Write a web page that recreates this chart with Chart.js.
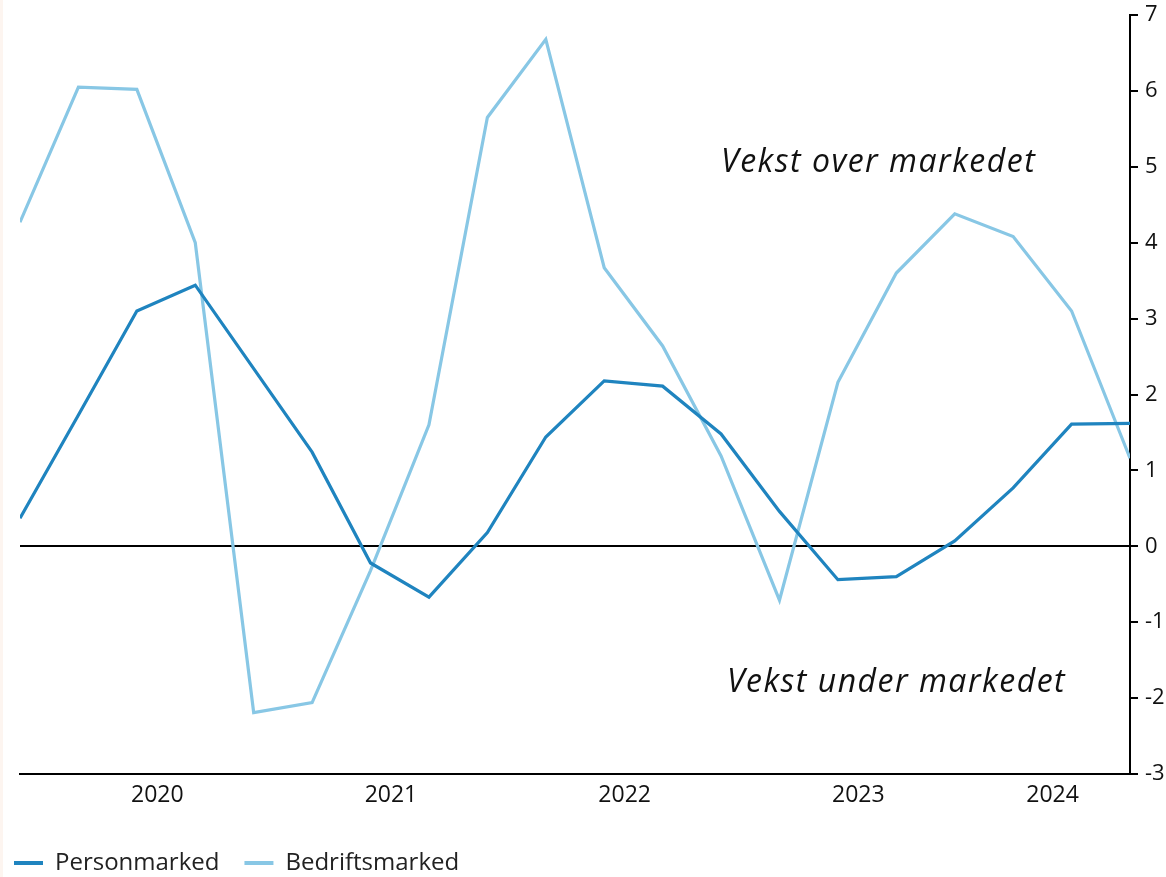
<!DOCTYPE html>
<html>
<head>
<meta charset="utf-8">
<script src="https://cdn.jsdelivr.net/npm/chart.js@4/dist/chart.umd.min.js"></script>
<style>
  html, body { margin: 0; padding: 0; }
  body { background: linear-gradient(to right, #fdf5f0 3px, #ffffff 3px); }
  #wrap { width: 1166px; height: 877px; }
</style>
</head>
<body>
<div id="wrap"><canvas id="myChart"></canvas></div>
<script>
// Kvartalsvis vekst relativt til markedet (prosentpoeng)
var quarters = ['2019K4', '2020K1', '2020K2', '2020K3', '2020K4', '2021K1', '2021K2', '2021K3', '2021K4',
                '2022K1', '2022K2', '2022K3', '2022K4', '2023K1', '2023K2', '2023K3', '2023K4',
                '2024K1', '2024K2', '2024K3'];
var personmarked = [0.37, 1.73, 3.1, 3.44, 2.34, 1.24, -0.22, -0.67, 0.18, 1.44,
                    2.18, 2.11, 1.48, 0.46, -0.44, -0.4, 0.07, 0.77, 1.61, 1.62];
var bedriftsmarked = [4.27, 6.05, 6.02, 4.0, -2.19, -2.06, -0.32, 1.6, 5.65, 6.68,
                      3.67, 2.64, 1.19, -0.71, 2.16, 3.6, 4.38, 4.08, 3.1, 1.16];
var years = ['2020', '2021', '2022', '2023', '2024'];
var yTicks = [-3, -2, -1, 0, 1, 2, 3, 4, 5, 6, 7];

var FONT = '"Open Sans", "DejaVu Sans", sans-serif';

function toPoints(arr) {
    return arr.map(function(v, i) { return { x: i, y: v }; });
}

// tekst i plottet
var annotations = {
    id: 'annotations',
    afterDatasetsDraw: function(chart) {
        var ctx = chart.ctx, x = chart.scales.x, y = chart.scales.y;
        ctx.save();
        ctx.fillStyle = '#111';
        ctx.font = 'italic 32px ' + FONT;
        ctx.letterSpacing = '1.5px';
        ctx.textBaseline = 'middle';
        ctx.textAlign = 'left';
        ctx.fillText('Vekst over markedet', x.getPixelForValue(12.0), y.getPixelForValue(5.05));
        ctx.fillText('Vekst under markedet', x.getPixelForValue(12.1), y.getPixelForValue(-1.8));
        ctx.restore();
    }
};

// flytt legenden litt (tettere mot kanten enn padding tillater)
var legendShift = {
    id: 'legendShift',
    afterLayout: function(chart) {
        var lg = chart.legend;
        var h = lg.bottom - lg.top;
        lg.left -= 15;
        lg.top = 826;
        lg.bottom = lg.top + h;
    }
};

var ctx = document.getElementById('myChart').getContext('2d');
var myChart = new Chart(ctx, {
    type: 'line',
    data: {
        datasets: [{
            label: 'Personmarked',
            data: toPoints(personmarked),
            borderColor: '#1f84bf',
            backgroundColor: '#1f84bf',
            borderWidth: 3.2,
            pointRadius: 0,
            tension: 0
        }, {
            label: 'Bedriftsmarked',
            data: toPoints(bedriftsmarked),
            borderColor: '#88c7e5',
            backgroundColor: '#88c7e5',
            borderWidth: 3.2,
            pointRadius: 0,
            tension: 0
        }]
    },
    options: {
        responsive: true,
        maintainAspectRatio: false,
        animation: false,
        layout: { padding: { left: 4, right: 0, top: 15, bottom: 0 } },
        plugins: {
            tooltip: { enabled: false },
            legend: {
                position: 'bottom',
                align: 'start',
                labels: {
                    boxWidth: 29,
                    boxHeight: 4,
                    padding: 25,
                    color: '#222',
                    font: { family: FONT, size: 24 },
                    generateLabels: function(chart) {
                        return Chart.defaults.plugins.legend.labels.generateLabels(chart).map(function(l) {
                            l.lineWidth = 0;
                            return l;
                        });
                    }
                }
            }
        },
        scales: {
            x: {
                type: 'linear',
                min: 0,
                max: quarters.length - 1,
                afterBuildTicks: function(axis) {
                    var last = quarters.length - 1;
                    axis.ticks = years.map(function(y, k) {
                        var start = 0.35 + 4 * k;
                        var end = Math.min(start + 4, last);
                        return { value: (start + end) / 2 };
                    });
                },
                afterFit: function(s) { s.height = 44; },
                grid: { display: false },
                border: { display: true, color: '#000', width: 2 },
                ticks: {
                    autoSkip: false,
                    maxRotation: 0,
                    padding: 0,
                    color: '#111',
                    font: { family: FONT, size: 23 },
                    callback: function(v, i) { return years[i]; }
                }
            },
            yl: {
                position: 'left',
                display: true,
                afterFit: function(s) { s.width = 16; },
                grid: { display: false },
                border: { display: false },
                ticks: { display: false }
            },
            y: {
                position: 'right',
                min: -3,
                max: 7,
                afterBuildTicks: function(axis) {
                    axis.ticks = yTicks.map(function(v) { return { value: v }; });
                },
                afterFit: function(s) {
                    s.width = 36;
                    s.paddingTop = 0;
                    s.paddingBottom = 0;
                },
                border: { display: true, color: '#000', width: 2 },
                grid: {
                    drawOnChartArea: true,
                    drawTicks: true,
                    tickLength: 8,
                    tickColor: '#000',
                    tickWidth: 2,
                    color: function(c) { return c.tick && c.tick.value === 0 ? '#000' : 'rgba(0,0,0,0)'; },
                    lineWidth: 2
                },
                ticks: {
                    padding: 7,
                    color: '#111',
                    font: { family: FONT, size: 22 }
                }
            }
        }
    },
    plugins: [annotations, legendShift]
});
</script>
</body>
</html>
